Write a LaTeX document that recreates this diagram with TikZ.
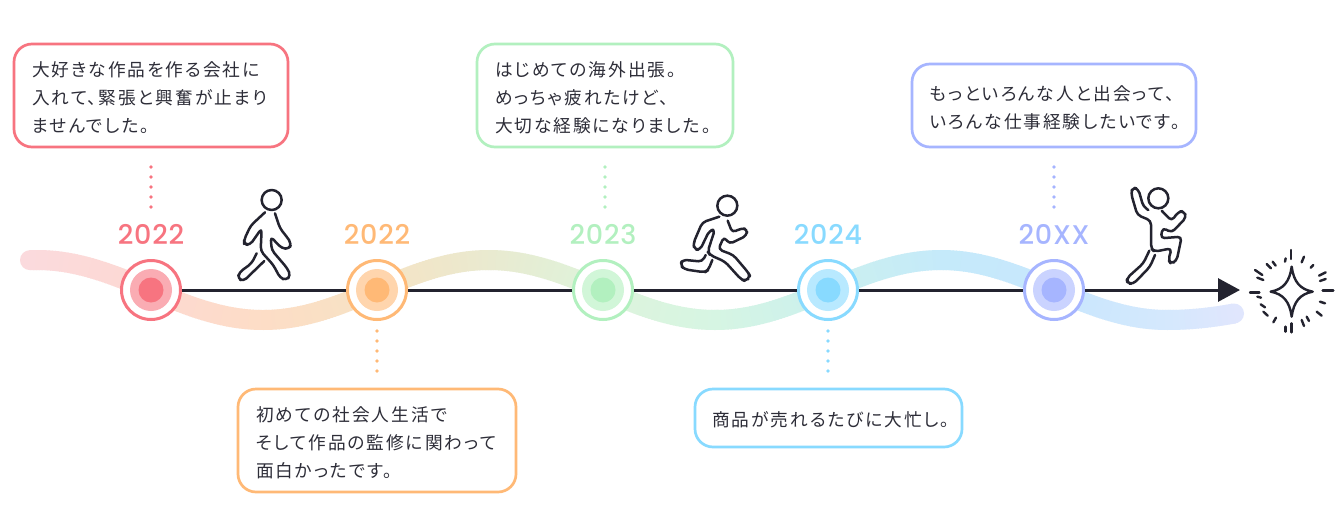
\documentclass[tikz,border=0pt]{standalone}
\usepackage{fontspec}
\usepackage{tikz}
\usetikzlibrary{arrows.meta}
\newfontfamily\jpfont[LetterSpace=11,RawFeature={+palt}]{Noto Sans CJK JP}
\newfontfamily\yearfont[LetterSpace=3]{Poppins Medium}
\definecolor{ink}{HTML}{23232F}
\definecolor{txt}{HTML}{2D2D38}
\definecolor{cred}{HTML}{F77480}
\definecolor{corange}{HTML}{FFB976}
\definecolor{cgreen}{HTML}{B2F0BF}
\definecolor{cblue}{HTML}{88DAFF}
\definecolor{cviolet}{HTML}{A6B5FF}
\definecolor{w0}{HTML}{FBDADD}
\definecolor{w1}{HTML}{FDD9D2}
\definecolor{w2}{HTML}{FDDDC6}
\definecolor{w3}{HTML}{F6E3C4}
\definecolor{w4}{HTML}{E9EAD0}
\definecolor{w5}{HTML}{DEF4DC}
\definecolor{w6}{HTML}{D6F5E3}
\definecolor{w7}{HTML}{CBF0EE}
\definecolor{w8}{HTML}{C5EAFA}
\definecolor{w9}{HTML}{C8E7FD}
\definecolor{w10}{HTML}{D5E8FD}
\definecolor{w11}{HTML}{E0E6FD}
\tikzset{
	msgbox/.style={draw=#1, line width=2.7pt, rounded corners=18pt, fill=white, font=\jpfont\fontsize{17.7}{28}\selectfont, text=txt, align=left, inner sep=0pt, execute at begin node={\rule{0pt}{19pt}}},
	stopring/.style={circle, draw=#1, line width=3pt, fill=white, minimum size=59pt, inner sep=0pt},
	dotline/.style={draw=#1, line width=3.6pt, line cap=round, dash pattern=on 0pt off 10pt},
	yearlabel/.style={text=#1, font=\yearfont\fontsize{27}{27}\selectfont, inner sep=0pt},
	figline/.style={draw=ink, line width=2.5pt, line join=round, line cap=round, rounded corners=4pt},
	spark/.style={draw=ink, line width=2.4pt, line cap=round},
	declare function={
		wavex(\t)=(\t<1167)*\t+(\t>=1167)*(1167+(\t-1167)*0.72);
		wavey(\t)=290+30*sin((wavex(\t)-150)/226*180);
	}
}
\begin{document}
\begin{tikzpicture}[x=1pt, y=-1pt]
	\useasboundingbox[fill=white] (0,0) rectangle (1340,530);

	\fill[w0] (30,{wavey(30)}) circle (10pt);
	\fill[w11] (1234,{wavey(1234)}) circle (10pt);
	\foreach \xa/\xb/\ca/\cb in {30/150/w0/w1, 150/263/w1/w2, 263/377/w2/w3, 377/490/w3/w4, 490/603/w4/w5, 603/715/w5/w6, 715/828/w6/w7, 828/940/w7/w8, 940/1054/w8/w9, 1054/1167/w9/w10, 1167/1234/w10/w11}{
		\pgfmathsetmacro{\xlast}{\xb-1}
		\pgfmathsetmacro{\xnext}{\xa+3}
		\foreach \x in {\xa,\xnext,...,\xlast}{
			\pgfmathsetmacro{\pct}{100*(\x-\xa)/(\xb-\xa)}
			\pgfmathsetmacro{\xe}{min(\x+4,1234)}
			\draw[line width=20pt, color=\cb!\pct!\ca] (\x,{wavey(\x)}) -- (\xe,{wavey(\xe)});
		}
	}

	\node[stopring=cred] (a) at (151,290) {};
	\node[stopring=corange] (b) at (377,290) {};
	\node[stopring=cgreen] (c) at (603,290) {};
	\node[stopring=cblue] (d) at (828,290) {};
	\node[stopring=cviolet] (e) at (1054,290) {};
	\coordinate (goal) at (1240,290);

	\draw[ink, line width=3pt] (a) -- (b);
	\draw[ink, line width=3pt] (b) -- (c);
	\draw[ink, line width=3pt] (c) -- (d);
	\draw[ink, line width=3pt] (d) -- (e);
	\draw[ink, line width=3pt, -{Triangle[length=22pt,width=23pt]}] (e) -- (goal);

	\foreach \n/\col in {a/cred, b/corange, c/cgreen, d/cblue, e/cviolet}{
		\fill[\col!60!white] (\n) circle (21pt);
		\fill[\col] (\n) circle (12.5pt);
	}

	\node[yearlabel=cred] (ya) at (151,234) {2022};
	\node[yearlabel=corange] (yb) at (377,234) {2022};
	\node[yearlabel=cgreen] (yc) at (603,234) {2023};
	\node[yearlabel=cblue] (yd) at (828,234) {2024};
	\node[yearlabel=cviolet] (ye) at (1054,234) {20XX};

	\node[msgbox=cred, minimum width=274pt, minimum height=103pt, text width=238pt] (ma) at (151,95.5) {大好きな作品を作る会社に\\入れて、緊張と興奮が止まり\\ませんでした。};
	\node[msgbox=corange, minimum width=278pt, minimum height=103pt, text width=242pt] (mb) at (377,440.5) {初めての社会人生活で\\そして作品の監修に関わって\\面白かったです。};
	\node[msgbox=cgreen, minimum width=256pt, minimum height=103pt, text width=220pt] (mc) at (605,95.5) {はじめての海外出張。\\めっちゃ疲れたけど、\\大切な経験になりました。};
	\node[msgbox=cblue, minimum width=267pt, minimum height=58pt, text width=233pt] (md) at (828.5,418) {商品が売れるたびに大忙し。};
	\node[msgbox=cviolet, minimum width=284pt, minimum height=83pt, text width=248pt] (me) at (1054,105.5) {もっといろんな人と出会って、\\いろんな仕事経験したいです。};

	\coordinate (da) at (151,167);
	\coordinate (db) at (377,331);
	\coordinate (dc) at (605,167);
	\coordinate (dd) at (828,331);
	\coordinate (de) at (1054,167);
	\draw[dotline=cred] (da) -- ++(0,41);
	\draw[dotline=corange] (db) -- ++(0,41);
	\draw[dotline=cgreen] (dc) -- ++(0,41);
	\draw[dotline=cblue] (dd) -- ++(0,41);
	\draw[dotline=cviolet] (de) -- ++(0,41);

	\begin{scope}[shift={(230,185)}, x=0.3333pt, y=-0.3333pt]
		\draw[figline] (125,45) circle (30);
		\draw[figline] (105,82) -- (62,122) -- (42,165) -- (42,178) -- (60,180) -- (95,130) -- (92,198) -- (130,240) -- (150,278) -- (168,286) -- (182,272) -- (172,250) -- (125,195) -- (122,155) -- (155,190) -- (178,192) -- (184,175) -- (170,155) -- (150,130) -- (135,85);
		\draw[figline] (80,205) -- (65,235) -- (28,262) -- (23,280) -- (40,289) -- (103,228);
	\end{scope}
	\begin{scope}[shift={(675,190)}, x=0.3333pt, y=-0.3333pt]
		\draw[figline] (157,47) circle (30);
		\draw[figline] (133,80) -- (82,97) -- (55,160) -- (58,178) -- (75,180) -- (103,122) -- (120,118) -- (98,185) -- (105,195) -- (150,215) -- (198,268) -- (212,274) -- (226,260) -- (220,248) -- (175,195) -- (130,178) -- (147,140) -- (163,162) -- (215,137) -- (217,117) -- (198,115) -- (172,128) -- (158,92);
		\draw[figline] (92,195) -- (82,215) -- (22,209) -- (16,225) -- (28,238) -- (90,247) -- (100,240) -- (112,210);
	\end{scope}
	\begin{scope}[shift={(1120,180)}, x=0.3333pt, y=-0.3333pt]
		\draw[figline] (115,55) circle (30);
		\draw[figline] (85,90) -- (70,80) -- (55,27) -- (38,22) -- (33,40) -- (52,105) -- (93,122) -- (93,205) -- (103,215) -- (155,205) -- (145,240) -- (153,252) -- (170,242) -- (185,170) -- (122,175) -- (128,143) -- (155,158) -- (199,112) -- (192,93) -- (175,95) -- (155,123) -- (125,92);
		\draw[figline] (88,212) -- (70,250) -- (20,295) -- (22,310) -- (40,312) -- (90,260) -- (105,225);
	\end{scope}
	\begin{scope}[shift={(1245,245)}, x=0.3333pt, y=-0.3333pt]
		\draw[draw=ink, line width=2.4pt, line join=round] (140,65) .. controls (146,110) and (165,133) .. (203,140) .. controls (165,147) and (146,170) .. (140,215) .. controls (134,170) and (115,147) .. (77,140) .. controls (115,133) and (134,110) .. (140,65) -- cycle;
		\foreach \xa/\ya/\xb/\yb in {138/15/138/42, 177/35/170/52, 205/60/197/68, 242/82/222/92, 242/102/225/108, 265/137/233/137, 240/175/225/170, 230/212/215/200, 192/228/185/215, 177/243/170/225, 140/262/140/235, 122/260/122/245, 85/232/93/218, 68/212/55/200, 60/187/47/178, 15/142/43/142, 37/155/48/158, 55/105/37/98, 52/90/30/75, 65/57/78/70, 83/50/92/62, 120/50/122/40}{
			\draw[spark] (\xa,\ya) -- (\xb,\yb);
		}
	\end{scope}
\end{tikzpicture}
\end{document}
